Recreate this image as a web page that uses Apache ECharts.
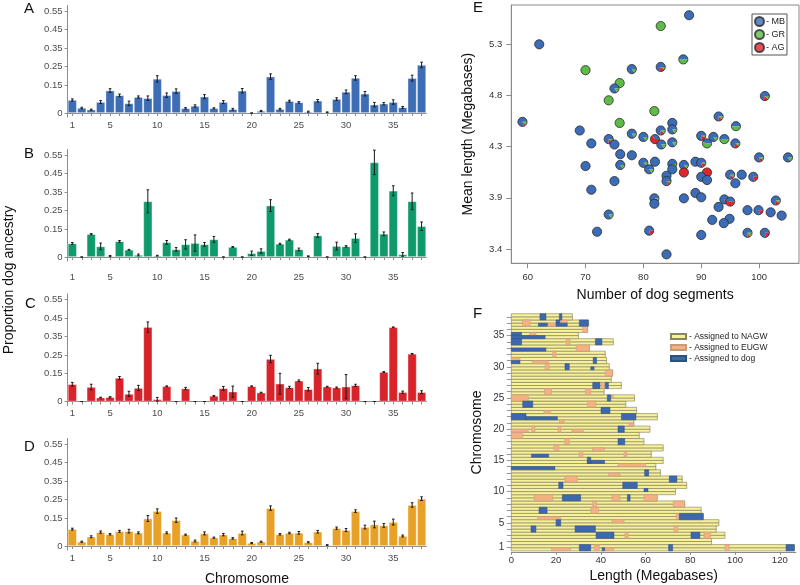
<!DOCTYPE html>
<html>
<head>
<meta charset="utf-8">
<script src="https://cdn.jsdelivr.net/npm/echarts@6/dist/echarts.min.js"></script>
<style>
  html, body { margin: 0; padding: 0; background: #fff; }
  #chart { width: 800px; height: 585px; }
</style>
</head>
<body>
<div id="chart"></div>
<script>
// chromosomes on the x axis of panels A-D
var chromosomes = ['1','2','3','4','5','6','7','8','9','10','11','12','13','14','15','16','17','18','19',
  '20','21','22','23','24','25','26','27','28','29','30','31','32','33','34','35','36','37','38'];

// proportion dog ancestry per chromosome (0 = no estimate, drawn as a dash)
var propA = [0.070,0.027,0.018,0.059,0.121,0.095,0.052,0.086,0.080,0.184,0.096,0.118,0.025,0.038,0.088,0.025,0.059,0.020,0.120,0,
  0.011,0.196,0.021,0.064,0.057,0.007,0.066,0.004,0.075,0.114,0.189,0.104,0.045,0.050,0.059,0.030,0.188,0.259];
var errA = [0.006,0.004,0.003,0.008,0.010,0.007,0.012,0.006,0.012,0.017,0.012,0.012,0.004,0.006,0.011,0.003,0.008,0.005,0.012,0,
  0.003,0.015,0.004,0.005,0.004,0.003,0.007,0.002,0.007,0.010,0.012,0.012,0.012,0.006,0.012,0.005,0.016,0.015];
var propB = [0.073,0,0.123,0.057,0.005,0.084,0.039,0.011,0.300,0.007,0.079,0.041,0.068,0.075,0.068,0.095,0,0.054,0,0.020,
  0.032,0.277,0.071,0.093,0.041,0.004,0.116,0,0.059,0.057,0.102,0,0.510,0.125,0.357,0.014,0.300,0.166];
var errB = [0.005,0,0.003,0.018,0.003,0.005,0.002,0.005,0.062,0.002,0.010,0.010,0.025,0.044,0.010,0.016,0,0.002,0,0.012,
  0.012,0.032,0.003,0.003,0.007,0.002,0.010,0,0.021,0.004,0.023,0,0.066,0.010,0.027,0.010,0.045,0.023];
var propC = [0.093,0,0.078,0.021,0.023,0.127,0.041,0.073,0.401,0.012,0.082,0,0.070,0,0,0.030,0.071,0.053,0,0.082,
  0.048,0.229,0.096,0.076,0.112,0.066,0.177,0.080,0.075,0.080,0.087,0,0,0.159,0.400,0.050,0.257,0.050];
var errC = [0.010,0,0.015,0.002,0.003,0.008,0.014,0.014,0.028,0.010,0.002,0,0.006,0,0,0.002,0.010,0.030,0,0.002,
  0.002,0.020,0.056,0.006,0.004,0.009,0.029,0.002,0.003,0.065,0.006,0,0,0.002,0.002,0.006,0.002,0.008];
var propD = [0.091,0.023,0.050,0.075,0.063,0.079,0.080,0.071,0.148,0.188,0.071,0.139,0.061,0.027,0.068,0.045,0.061,0.041,0.070,0.016,
  0.023,0.204,0.063,0.070,0.071,0.020,0.077,0.005,0.096,0.086,0.188,0.102,0.116,0.111,0.129,0.054,0.221,0.255];
var errD = [0.005,0.003,0.005,0.006,0.004,0.005,0.010,0.005,0.016,0.012,0.005,0.012,0.003,0.005,0.008,0.003,0.006,0.004,0.010,0.003,
  0.003,0.012,0.004,0.004,0.007,0.003,0.007,0.002,0.006,0.008,0.007,0.010,0.018,0.010,0.016,0.005,0.012,0.010];
var barTickValues = [0, 0.15, 0.25, 0.35, 0.45, 0.55];
var barTickLabels = ['0', '0.15', '0.25', '0.35', '0.45', '0.55'];

// panel E: one pie per individual
var dogSegments = [62.0,70.0,78.0,75.9,75.0,74.0,81.9,59.1,75.9,69.0,78.0,80.0,71.0,74.0,75.0,76.0,78.0,82.0,83.0,83.1,
  85.0,85.0,85.0,83.0,87.9,86.9,83.0,101.0,93.0,96.0,90.0,92.1,91.0,94.0,95.9,100.0,105.0,80.0,82.0,81.0,
  70.0,76.0,75.0,71.0,81.9,81.9,74.0,81.0,72.0,85.0,85.0,87.0,87.0,89.0,90.0,91.0,90.0,91.0,84.0,84.0,
  95.0,97.0,99.0,95.9,89.0,90.0,87.0,94.0,95.0,93.0,102.9,98.0,99.9,102.0,103.9,94.9,91.9,93.9,98.0,101.0,90.0,84.0];
var meanLength = [5.30,5.06,5.07,4.94,4.89,4.78,4.68,4.58,4.57,4.50,4.47,4.44,4.38,4.42,4.37,4.28,4.27,4.42,4.50,4.37,
  4.57,4.51,4.39,5.47,5.57,5.16,5.09,4.82,4.63,4.54,4.45,4.44,4.38,4.42,4.38,4.25,4.25,4.20,4.21,4.14,
  4.17,4.18,4.03,3.95,3.87,3.82,3.72,3.57,3.56,4.19,4.14,4.18,4.11,4.21,4.20,4.11,4.07,4.04,4.08,4.03,
  4.09,4.09,4.07,4.01,3.92,3.88,3.87,3.86,3.84,3.79,3.85,3.76,3.76,3.74,3.71,3.68,3.67,3.64,3.55,3.55,3.53,3.35];
var shareMB = [1,0,.85,0,.85,0,0,.8,0,1,.85,.85,1,.75,1,1,1,.35,.75,.85,
  1,.85,.85,0,1,.5,.7,.7,.75,.5,.75,.85,.45,.5,.7,.8,.85,.9,1,.85,
  1,.85,1,1,.85,1,.85,.8,1,.75,1,.85,0,1,.8,0,1,1,1,.8,
  .8,1,.8,1,1,1,1,.8,.5,1,.75,1,.8,1,1,1,1,1,.75,.8,1,1];
var shareGR = [0,1,.15,1,.15,1,1,.12,1,0,.15,.15,0,.1,0,0,0,0,.1,.15,
  0,.15,.15,1,0,.5,.1,.12,.1,.5,.05,.15,.55,.5,.1,.08,.15,.1,0,.15,
  0,.15,0,0,.05,0,.15,0,0,.13,0,.15,0,0,.05,0,0,0,0,.08,
  .1,0,0,0,0,0,0,0,0,0,.1,0,0,0,0,0,0,0,.15,0,0,0];
var shareAG = [0,0,0,0,0,0,0,.08,0,0,0,0,0,.15,0,0,0,.65,.15,0,
  0,0,0,0,0,0,.2,.18,.15,0,.2,0,0,0,.2,.12,0,0,0,0,
  0,0,0,0,.1,0,0,.2,0,.12,0,0,1,0,.15,1,0,0,0,.12,
  .1,0,.2,0,0,0,0,.2,.5,0,.15,0,.2,0,0,0,0,0,.1,.2,0,0];
var eXTicks = [60, 70, 80, 90, 100];
var eYTicks = [3.4, 3.875, 4.35, 4.825, 5.3];
var eYLabels = ['3.4', '3.9', '4.3', '4.8', '5.3'];

// panel F: chromosome lengths (Mb) and painted segments [chromosome, haplotype (0 low,1 high,2 both), start, end]
var chromLength = [126.5,89.5,95.5,91.6,92.8,85.8,84.9,77.5,65.2,73.4,78.4,76.4,66.7,64.6,67.9,62.6,67.9,59.3,57.2,62.0,
  54.8,65.3,56.0,51.2,55.1,41.5,49.2,44.7,45.3,43.8,42.6,42.0,34.9,45.6,30.0,34.1,34.6,27.3];
var eugwSegments = [
  [37,2,5.0,8.4],[37,0,16.1,20.0],[37,1,22.1,25.0],[36,2,31.9,34.1],[35,1,8.1,11.0],[34,2,24.5,26.2],
  [33,2,29.0,34.9],[32,2,18.5,20.0],[31,1,0,3.9],[31,0,9.3,16.6],[30,2,15.1,16.9],[29,2,42.0,45.3],
  [27,2,40.1,41.7],[26,2,14.8,18.0],[26,2,33.2,35.5],[25,2,0,7.6],[25,1,44.4,45.6],[24,2,34.0,37.8],
  [23,0,14.6,17.6],[21,1,21.5,23.6],[21,0,52.6,54.8],[20,0,0,7.6],[20,2,9.1,10.6],[20,2,20.9,22.1],
  [20,0,27.1,32.2],[19,2,0,5.1],[18,2,23.9,25.9],[17,2,19.1,21.2],[17,0,36.3,41.6],[16,2,30.3,31.9],
  [16,2,50.4,51.6],[14,1,47.7,60.0],[13,0,43.4,48.6],[12,2,23.9,29.5],[9,2,10.2,18.5],[9,2,45.0,48.6],
  [9,2,59.3,65.2],[8,2,36.4,38.1],[8,2,72.4,77.5],[7,2,35.6,39.0],[6,0,11.8,22.1],[6,2,73.7,75.1],
  [5,1,45.0,50.4],[4,2,72.7,74.3],[3,2,50.8,52.3],[3,2,86.1,89.1],[1,0,18.0,26.5],[1,2,37.0,39.3],
  [1,0,41.7,45.8],[1,2,95.5,97.4]
];
var dogSegmentsF = [
  [38,2,12.8,15.5],[38,2,21.5,22.6],[37,0,12.1,16.1],[37,1,20.0,21.7],[37,0,20.0,25.0],[37,2,30.4,34.4],
  [35,1,0,4.6],[35,0,0,15.1],[34,2,0,4.6],[34,2,37.6,40.5],[33,0,0,15.5],[31,0,0,3.9],[31,2,36.6,38.1],
  [30,2,24.0,25.9],[30,0,35.5,37.0],[27,2,36.4,39.6],[27,2,42.0,43.4],[25,2,42.9,44.4],[24,2,5.1,9.6],
  [23,2,40.1,44.1],[22,2,0,6.6],[22,0,6.6,20.6],[22,2,49.2,55.7],[20,2,47.7,50.5],[18,2,47.7,50.7],
  [16,0,9.0,16.7],[15,0,34.0,41.7],[15,2,34.0,35.5],[14,0,0,19.5],[13,2,59.6,61.4],[12,2,70.6,74.0],
  [11,2,21.2,23.1],[11,2,49.8,56.3],[10,1,59.3,61.1],[9,2,22.8,31.0],[9,2,51.9,53.1],[7,2,12.4,16.0],
  [6,2,75.1,85.8],[5,2,20.0,22.1],[4,2,8.8,11.0],[4,2,28.5,37.6],[3,2,37.9,45.9],[3,2,80.3,84.3],
  [1,2,30.4,35.5],[1,0,40.6,41.7],[1,2,70.3,72.1],[1,2,122.8,126.5]
];
var fXTicks = [0, 20, 40, 60, 80, 100, 120];
var fYLabels = [1, 5, 10, 15, 20, 25, 30, 35];

var FONT = '"Liberation Sans", Arial, Helvetica, sans-serif';
var AXIS = '#8c8c8c';
var MB = '#3b6cb7', GR = '#5dbb46', AG = '#e0262a';
var NAGW = '#f7f19a', EUGW = '#f4b183', DOG = '#3c68ad';

function nearestLabel(vals, labels, v) {
  var best = 0;
  for (var i = 1; i < vals.length; i++) {
    if (Math.abs(vals[i] - v) < Math.abs(vals[best] - v)) best = i;
  }
  return labels[best];
}

var grids = [], xAxes = [], yAxes = [], series = [];

// panels A-D
var panels = [
  { values: propA, errors: errA, color: '#3d6db5', zeroY: 113, labelMargin: 3 },
  { values: propB, errors: errB, color: '#0f9a6c', zeroY: 257, labelMargin: 11 },
  { values: propC, errors: errC, color: '#d8232a', zeroY: 401.5, labelMargin: 3 },
  { values: propD, errors: errD, color: '#e8a127', zeroY: 546, labelMargin: 3 }
];
var scale = 185.5, yMin = -0.022, yMax = 0.58;

function renderErr(params, api) {
  var x = api.value(0), v = api.value(1), e = api.value(2);
  var lo = api.coord([x, v - e]);
  var hi = api.coord([x, v + e]);
  var cw = 1.3;
  var st = { stroke: '#1a1a1a', lineWidth: 1 };
  return {
    type: 'group',
    children: [
      { type: 'line', shape: { x1: lo[0], y1: lo[1], x2: hi[0], y2: hi[1] }, style: st },
      { type: 'line', shape: { x1: lo[0] - cw, y1: lo[1], x2: lo[0] + cw, y2: lo[1] }, style: st },
      { type: 'line', shape: { x1: hi[0] - cw, y1: hi[1], x2: hi[0] + cw, y2: hi[1] }, style: st }
    ]
  };
}

panels.forEach(function (p, i) {
  grids.push({
    left: 67.6, width: 358.7,
    top: p.zeroY - yMax * scale, height: (yMax - yMin) * scale,
    outerBoundsMode: 'none'
  });
  xAxes.push({
    type: 'category', gridIndex: i, data: chromosomes,
    name: i === 3 ? 'Chromosome' : '',
    nameLocation: 'middle', nameGap: 22, nameMoveOverlap: false,
    nameTextStyle: { fontSize: 14, color: '#111', fontFamily: FONT },
    axisLine: { show: true, lineStyle: { color: AXIS, width: 1 } },
    axisTick: { show: true, alignWithLabel: true, interval: 0, length: 3, lineStyle: { color: AXIS } },
    axisLabel: {
      interval: function (idx, val) { return val === '1' || (+val) % 5 === 0; },
      fontSize: 9.5, color: '#4d4d4d', margin: p.labelMargin, fontFamily: FONT
    },
    splitLine: { show: false }
  });
  yAxes.push({
    type: 'value', gridIndex: i, min: yMin, max: yMax,
    axisLine: { show: true, lineStyle: { color: AXIS, width: 1 } },
    axisTick: { show: true, length: 3, customValues: barTickValues, lineStyle: { color: AXIS } },
    axisLabel: {
      customValues: barTickValues,
      formatter: function (v) { return nearestLabel(barTickValues, barTickLabels, v); },
      fontSize: 9.5, color: '#4d4d4d', margin: 5, fontFamily: FONT
    },
    splitLine: { show: false }
  });
  series.push({
    type: 'bar', xAxisIndex: i, yAxisIndex: i,
    data: p.values.map(function (v) { return v === 0 ? '-' : v; }),
    barWidth: '95%',
    itemStyle: { color: p.color, borderColor: 'rgba(255,255,255,0.5)', borderWidth: 0.7 },
    silent: true
  });
  series.push({
    type: 'custom', xAxisIndex: i, yAxisIndex: i,
    data: p.values.map(function (v, k) { return [k, v, p.errors[k]]; }),
    renderItem: renderErr, z: 5, silent: true
  });
});

// panel E
grids.push({ left: 511.3, top: 5, width: 287.7, height: 258.3, show: true,
  borderColor: '#8a8a8a', borderWidth: 1, outerBoundsMode: 'none' });
xAxes.push({
  type: 'value', gridIndex: 4, min: 57.17, max: 106.9,
  name: 'Number of dog segments', nameLocation: 'middle', nameGap: 25, nameMoveOverlap: false,
  nameTextStyle: { fontSize: 14, color: '#111', fontFamily: FONT },
  axisLine: { show: true, lineStyle: { color: '#8a8a8a' } },
  axisTick: { show: true, length: 5, customValues: eXTicks, lineStyle: { color: '#8a8a8a' } },
  axisLabel: { customValues: eXTicks, fontSize: 9.5, color: '#333', margin: 9, fontFamily: FONT },
  splitLine: { show: false }
});
yAxes.push({
  type: 'value', gridIndex: 4, min: 3.267, max: 5.665,
  name: 'Mean length (Megabases)', nameLocation: 'middle', nameGap: 36, nameMoveOverlap: false,
  nameTextStyle: { fontSize: 14, color: '#111', fontFamily: FONT },
  axisLine: { show: true, lineStyle: { color: '#8a8a8a' } },
  axisTick: { show: true, length: 5, customValues: eYTicks, lineStyle: { color: '#8a8a8a' } },
  axisLabel: {
    customValues: eYTicks,
    formatter: function (v) { return nearestLabel(eYTicks, eYLabels, v); },
    fontSize: 9.5, color: '#333', margin: 9, fontFamily: FONT
  },
  splitLine: { show: false }
});

function renderPie(params, api) {
  var c = api.coord([api.value(0), api.value(1)]);
  var parts = [api.value(2), api.value(3), api.value(4)];
  var cols = [MB, AG, GR];
  var r = 4.6, a = 0, kids = [];
  for (var i = 0; i < 3; i++) {
    if (!(parts[i] > 0)) continue;
    kids.push({
      type: 'sector',
      shape: { cx: c[0], cy: c[1], r: r, r0: 0,
        startAngle: -a * 2 * Math.PI, endAngle: -(a + parts[i]) * 2 * Math.PI, clockwise: false },
      style: { fill: cols[i] }
    });
    a += parts[i];
  }
  kids.push({ type: 'circle', shape: { cx: c[0], cy: c[1], r: r },
    style: { fill: 'none', stroke: '#2b2b2b', lineWidth: 0.8 } });
  return { type: 'group', children: kids };
}

series.push({
  type: 'custom', xAxisIndex: 4, yAxisIndex: 4,
  data: dogSegments.map(function (x, k) { return [x, meanLength[k], shareMB[k], shareAG[k], shareGR[k]]; }),
  renderItem: renderPie, silent: true
});
[['- MB', MB], ['- GR', GR], ['- AG', AG]].forEach(function (d) {
  series.push({ type: 'scatter', name: d[0], xAxisIndex: 4, yAxisIndex: 4, data: [],
    itemStyle: { color: d[1], borderColor: '#2b2b2b', borderWidth: 0.8 } });
});

// panel F
grids.push({ left: 511.3, top: 313.1, width: 284.6, height: 238.7, outerBoundsMode: 'none' });
xAxes.push({
  type: 'value', gridIndex: 5, min: 0, max: 127.2,
  name: 'Length (Megabases)', nameLocation: 'middle', nameGap: 17, nameMoveOverlap: false,
  nameTextStyle: { fontSize: 14, color: '#111', fontFamily: FONT },
  axisLine: { show: true, lineStyle: { color: '#8a8a8a' } },
  axisTick: { show: true, length: 3, customValues: fXTicks, lineStyle: { color: '#8a8a8a' } },
  axisLabel: { customValues: fXTicks, fontSize: 9.5, color: '#333', margin: 4, fontFamily: FONT },
  splitLine: { show: false }
});
yAxes.push({
  type: 'value', gridIndex: 5, min: 0.35, max: 38.6,
  name: 'Chromosome', nameLocation: 'middle', nameGap: 27, nameMoveOverlap: false,
  nameTextStyle: { fontSize: 14, color: '#111', fontFamily: FONT },
  axisLine: { show: false },
  axisTick: { show: true, length: 4.5, customValues: chromosomes.map(Number), lineStyle: { color: '#9a9a9a' } },
  axisLabel: { customValues: fYLabels, fontSize: 10, color: '#333', margin: 7, fontFamily: FONT },
  splitLine: { show: false }
});

function halfRect(api, c, hap, x0, x1) {
  var lo = hap === 1 ? c : c - 0.5;
  var hi = hap === 0 ? c : c + 0.5;
  var p0 = api.coord([x0, hi]);
  var p1 = api.coord([x1, lo]);
  return { x: p0[0], y: p0[1], width: p1[0] - p0[0], height: p1[1] - p0[1] };
}

series.push({
  type: 'custom', name: '- Assigned to NAGW', xAxisIndex: 5, yAxisIndex: 5,
  itemStyle: { color: NAGW, borderColor: '#8a8466', borderWidth: 0.6 },
  data: chromLength.map(function (len, k) { return [k + 1, len]; }),
  renderItem: function (params, api) {
    var c = api.value(0), len = api.value(1);
    var st = { fill: NAGW, stroke: '#7d7858', lineWidth: 0.6 };
    return { type: 'group', children: [
      { type: 'rect', shape: halfRect(api, c, 0, 0, len), style: st },
      { type: 'rect', shape: halfRect(api, c, 1, 0, len), style: st }
    ] };
  },
  silent: true
});
function segSeries(name, segs, fill, stroke) {
  return {
    type: 'custom', name: name, xAxisIndex: 5, yAxisIndex: 5,
    itemStyle: { color: fill, borderColor: stroke, borderWidth: 0.6 },
    data: segs,
    renderItem: function (params, api) {
      return { type: 'rect',
        shape: halfRect(api, api.value(0), api.value(1), api.value(2), api.value(3)),
        style: { fill: fill, stroke: stroke, lineWidth: 0.5 } };
    },
    z: 3, silent: true
  };
}
series.push(segSeries('- Assigned to EUGW', eugwSegments, EUGW, '#c99a7a'));
series.push(segSeries('- Assigned to dog', dogSegmentsF, DOG, '#2c4f86'));

function letter(t, x, y) {
  return { type: 'text', x: x, y: y,
    style: { text: t, font: '15px ' + FONT, fill: '#111', textVerticalAlign: 'middle' } };
}

var option = {
  animation: false,
  textStyle: { fontFamily: FONT },
  grid: grids,
  xAxis: xAxes,
  yAxis: yAxes,
  series: series,
  legend: [
    {
      data: ['- MB', '- GR', '- AG'], left: 752, top: 14, orient: 'vertical',
      icon: 'circle', itemWidth: 9, itemHeight: 9, itemGap: 2,
      padding: [2, 2, 2, 2], borderColor: '#555', borderWidth: 1,
      selectedMode: false,
      textStyle: { fontSize: 9, color: '#222', fontFamily: FONT, padding: [0, 0, 0, -3] }
    },
    {
      data: ['- Assigned to NAGW', '- Assigned to EUGW', '- Assigned to dog'],
      left: 670, top: 332, orient: 'vertical', icon: 'rect',
      itemWidth: 15, itemHeight: 5, itemGap: 2, padding: 0, selectedMode: false,
      textStyle: { fontSize: 8.5, color: '#222', fontFamily: FONT, padding: [0, 0, 0, -2] }
    }
  ],
  graphic: [
    { type: 'text', x: 9, y: 280, rotation: Math.PI / 2,
      style: { text: 'Proportion dog ancestry', font: '14px ' + FONT, fill: '#111',
        textAlign: 'center', textVerticalAlign: 'middle' } },
    letter('A', 24, 9), letter('B', 24, 154), letter('C', 25, 304), letter('D', 24, 446.5),
    letter('E', 473, 7.5), letter('F', 473, 313.5)
  ]
};

var chart = echarts.init(document.getElementById('chart'));
chart.setOption(option);
</script>
</body>
</html>
